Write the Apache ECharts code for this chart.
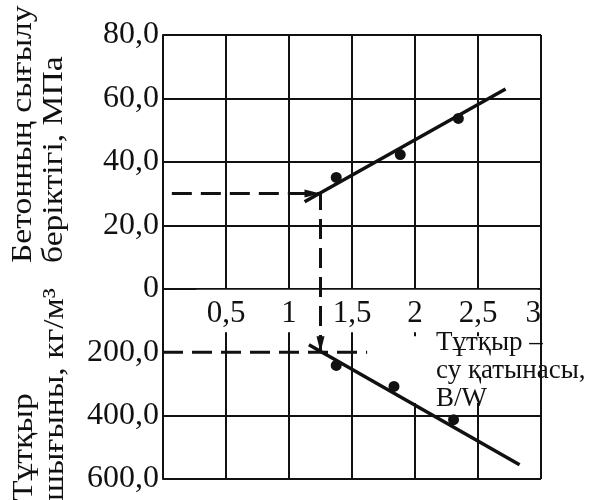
<!DOCTYPE html>
<html><head><meta charset="utf-8">
<script src="https://cdn.jsdelivr.net/npm/echarts@6/dist/echarts.min.js"></script>
<style>html,body{margin:0;padding:0;background:#fff}#c{width:597px;height:500px}</style>
</head><body><div id="c"></div>
<script>
// Axis ticks (lower half of the y axis is binder consumption, plotted as -kg/10)
const yTicks = [-60, -40, -20, 0, 20, 40, 60, 80];
const yTickLabels = ['600,0', '400,0', '200,0', '0', '20,0', '40,0', '60,0', '80,0'];
const xTicks = [0, 0.5, 1, 1.5, 2, 2.5, 3];
const xTickLabels = ['', '0,5', '1', '1,5', '2', '2,5', '3'];

// Concrete compressive strength, MPa
const ratioStrength = [1.375, 1.883, 2.344];
const strength = [35.1, 42.3, 53.7];
const strengthFitX = [1.124, 2.719];
const strengthFitY = [27.4, 63.0];

// Binder consumption, kg/m3
const ratioBinder = [1.375, 1.833, 2.306];
const binder = [242, 308, 413];
const binderFitX = [1.158, 2.830];
const binderFitY = [177, 555];

// Reading example (dashed guides)
const readStrength = 30;
const readRatio = 1.25;
const readBinder = 200;
const guideStartX = 0.07;
const guideEndX = 1.62;

const toY = kg => -kg / 10;
const ink = '#111';
const serif = '"Liberation Serif", "Times New Roman", serif';

const chart = echarts.init(document.getElementById('c'));
const splitColors = yTicks.map(v => v === toY(readBinder) ? 'rgba(0,0,0,0)' : ink);

chart.setOption({
  animation: false,
  backgroundColor: '#fff',
  grid: { left: 163, right: 56, top: 35, bottom: 21, containLabel: false, outerBoundsMode: 'none' },
  xAxis: {
    type: 'value', min: 0, max: 3, interval: 0.5,
    axisLine: { show: false },
    axisTick: { show: false },
    splitLine: { show: true, lineStyle: { color: ink, width: 2 } },
    axisLabel: { show: false }
  },
  yAxis: {
    type: 'value', min: -60, max: 80, interval: 20,
    axisLine: { show: true, onZero: false, lineStyle: { color: ink, width: 2 } },
    axisTick: { show: false },
    splitLine: { show: true, lineStyle: { color: splitColors, width: 2 } },
    axisLabel: {
      margin: 4, fontSize: 32, fontFamily: serif, color: ink,
      formatter: v => { const i = yTicks.indexOf(v); return i >= 0 ? yTickLabels[i] : ''; }
    }
  },
  graphic: [
    { type: 'text', rotation: Math.PI / 2, x: 8, y: 263, z: 100, scaleX: 1.12,
      style: { text: 'Бетонның сығылу\nберіктігі, МПа', fontSize: 30, fontFamily: serif, fill: ink,
               align: 'left', verticalAlign: 'top', lineHeight: 31 } },
    { type: 'text', rotation: Math.PI / 2, x: 9, y: 501, z: 100, scaleX: 1.12,
      style: { text: 'Тұтқыр\nшығыны, кг/м³', fontSize: 30, fontFamily: serif, fill: ink,
               align: 'left', verticalAlign: 'top', lineHeight: 31 } },
    { type: 'text', x: 436, y: 329, z: 100,
      style: { text: 'Тұтқыр –\nсу қатынасы,\nB/W', fontSize: 27, fontFamily: serif, fill: ink,
               align: 'left', verticalAlign: 'top', lineHeight: 28 } }
  ],
  series: [
    { type: 'line', data: [], z: 1, silent: true,
      markArea: { silent: true, itemStyle: { color: '#fff', opacity: 1 },
        data: [
          [{ coord: [0.264, -0.3] }, { coord: [2.98, -13.7] }],
          [{ coord: [1.99, -15] }, { coord: [2.98, -36] }]
        ] } },
    // x tick labels placed on the zero line
    { type: 'scatter', z: 5, silent: true, symbol: 'circle', symbolSize: 1,
      itemStyle: { color: 'rgba(0,0,0,0)', opacity: 1 },
      label: { show: true, position: 'bottom', distance: 9, fontSize: 31, fontFamily: serif, color: ink,
               opacity: 1, formatter: p => xTickLabels[p.dataIndex] },
      labelLayout: { hideOverlap: false },
      data: xTicks.map((x, i) => i === xTicks.length - 1
        ? { value: [x, 0], label: { align: 'right' } }
        : [x, 0]) },
    { type: 'line', symbol: 'none', z: 3,
      lineStyle: { color: ink, width: 3.5 },
      data: strengthFitX.map((x, i) => [x, strengthFitY[i]]) },
    { type: 'line', symbol: 'none', z: 3,
      lineStyle: { color: ink, width: 3.5 },
      data: binderFitX.map((x, i) => [x, toY(binderFitY[i])]) },
    { type: 'scatter', symbol: 'circle', symbolSize: 11, z: 4,
      itemStyle: { color: ink, opacity: 1 },
      data: ratioStrength.map((x, i) => [x, strength[i]]) },
    { type: 'scatter', symbol: 'circle', symbolSize: 11, z: 4,
      itemStyle: { color: ink, opacity: 1 },
      data: ratioBinder.map((x, i) => [x, toY(binder[i])]) },
    { type: 'line', symbol: 'none', showAllSymbol: true, z: 3,
      lineStyle: { color: ink, width: 3, type: [20, 9] },
      itemStyle: { color: ink },
      data: [
        [guideStartX, readStrength],
        { value: [readRatio, readStrength], symbol: 'triangle', symbolSize: [8, 16], symbolRotate: -90, symbolOffset: [-8, 0] },
        { value: [readRatio, toY(readBinder)], symbol: 'triangle', symbolSize: [8, 16], symbolRotate: 180, symbolOffset: [0, -8] }
      ] },
    { type: 'line', symbol: 'none', z: 3,
      lineStyle: { color: ink, width: 3, type: [20, 9] },
      data: [[0, toY(readBinder)], [guideEndX, toY(readBinder)]] }
  ]
});
</script>
</body></html>
